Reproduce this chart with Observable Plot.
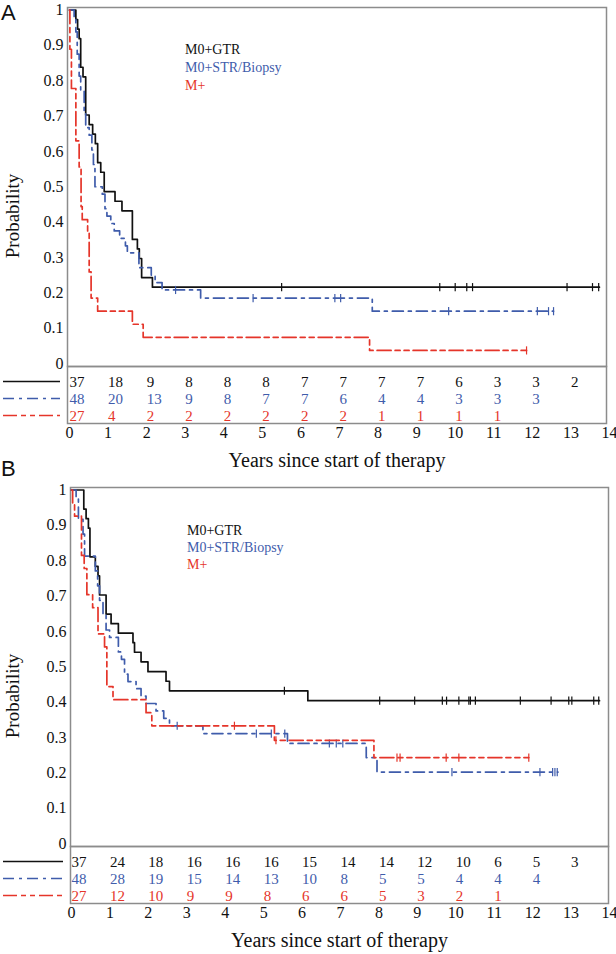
<!DOCTYPE html>
<html><head><meta charset="utf-8">
<script src="https://cdn.jsdelivr.net/npm/d3@7"></script>
<script src="https://cdn.jsdelivr.net/npm/@observablehq/plot@0.6"></script>
<style>
body{margin:0;background:#fff;}
#wrap{position:relative;width:616px;height:954px;overflow:hidden;font-family:"Liberation Serif","Times New Roman",serif;color:#111;}
.abs{position:absolute;}
.letter{font-family:"Liberation Sans",Arial,sans-serif;font-size:22px;line-height:22px;}
.legend{font-size:14px;line-height:18px;white-space:nowrap;}
</style></head><body><div id="wrap"></div>
<script>
// ---------- shared ----------
const seriesNames = ["M0+GTR", "M0+STR/Biopsy", "M+"];
const seriesColors = ["#111111", "#3f5cab", "#e5352a"];
const seriesDash = [null, "11,5,3,5", "14,4,5,4,5,4"];
const yTicks = [0, 0.1, 0.2, 0.3, 0.4, 0.5, 0.6, 0.7, 0.8, 0.9, 1];
const xTicks = [0, 1, 2, 3, 4, 5, 6, 7, 8, 9, 10, 11, 12, 13, 14];
const riskYears = [0, 1, 2, 3, 4, 5, 6, 7, 8, 9, 10, 11, 12, 13];
const xTitle = "Years since start of therapy";
const yTitle = "Probability";

// ---------- Panel A ----------
const aGtrTime = [0, 0.165, 0.21, 0.25, 0.29, 0.35, 0.42, 0.51, 0.60, 0.67, 0.73, 0.81, 0.90, 1.18, 1.36, 1.63, 1.76, 1.81, 1.87, 2.15];
const aGtrSurv = [1, 0.973, 0.946, 0.919, 0.838, 0.811, 0.703, 0.676, 0.649, 0.622, 0.568, 0.541, 0.486, 0.459, 0.432, 0.351, 0.324, 0.297, 0.243, 0.216];
const aGtrEnd = 13.74;
const aGtrCens = [5.5, 9.6, 10.0, 10.3, 10.45, 12.9, 13.56, 13.72];

const aStrTime = [0, 0.12, 0.165, 0.20, 0.25, 0.29, 0.38, 0.42, 0.51, 0.58, 0.62, 0.66, 0.85, 0.92, 0.97, 1.07, 1.16, 1.30, 1.45, 1.50, 1.80, 2.12, 2.22, 2.40, 3.40, 7.85];
const aStrSurv = [1, 0.979, 0.938, 0.875, 0.813, 0.771, 0.708, 0.667, 0.646, 0.604, 0.563, 0.5, 0.479, 0.438, 0.417, 0.396, 0.375, 0.354, 0.333, 0.313, 0.271, 0.25, 0.229, 0.208, 0.185, 0.148];
const aStrEnd = 12.55;
const aStrCens = [2.75, 4.76, 6.88, 7.03, 9.83, 12.13, 12.42, 12.55];

const aMpTime = [0, 0.01, 0.05, 0.165, 0.25, 0.30, 0.33, 0.47, 0.51, 0.56, 0.73, 1.63, 1.91, 7.78];
const aMpSurv = [1, 0.889, 0.778, 0.630, 0.556, 0.444, 0.407, 0.370, 0.259, 0.185, 0.148, 0.111, 0.074, 0.037];
const aMpEnd = 11.85;
const aMpCens = [11.85];

const aRiskGtr = [37, 18, 9, 8, 8, 8, 7, 7, 7, 7, 6, 3, 3, 2];
const aRiskStr = [48, 20, 13, 9, 8, 7, 7, 6, 4, 4, 3, 3, 3];
const aRiskMp = [27, 4, 2, 2, 2, 2, 2, 2, 1, 1, 1, 1];

// ---------- Panel B ----------
const bGtrTime = [0, 0.32, 0.38, 0.44, 0.48, 0.62, 0.69, 0.73, 0.90, 1.03, 1.22, 1.60, 1.64, 1.81, 1.99, 2.46, 2.55, 6.15];
const bGtrSurv = [1, 0.946, 0.919, 0.892, 0.811, 0.784, 0.757, 0.703, 0.649, 0.622, 0.595, 0.568, 0.541, 0.514, 0.486, 0.459, 0.432, 0.404];
const bGtrEnd = 13.74;
const bGtrCens = [5.54, 8.02, 8.93, 9.65, 9.76, 10.08, 10.34, 10.38, 10.51, 11.68, 12.48, 12.94, 13.02, 13.59, 13.72];

const bStrTime = [0, 0.12, 0.18, 0.30, 0.34, 0.62, 0.68, 0.73, 0.82, 0.90, 0.99, 1.22, 1.30, 1.38, 1.47, 1.68, 1.81, 1.94, 2.20, 2.40, 2.55, 3.42, 5.62, 7.67, 7.95];
const bStrSurv = [1, 0.979, 0.917, 0.875, 0.813, 0.771, 0.729, 0.688, 0.646, 0.604, 0.583, 0.542, 0.521, 0.479, 0.458, 0.438, 0.417, 0.396, 0.375, 0.354, 0.333, 0.311, 0.283, 0.243, 0.202];
const bStrEnd = 12.66;
const bStrCens = [2.75, 4.81, 5.2, 5.55, 6.71, 6.89, 7.06, 9.9, 12.19, 12.52, 12.58, 12.64];

const bMpTime = [0, 0.03, 0.08, 0.26, 0.33, 0.40, 0.55, 0.69, 0.86, 0.92, 1.08, 1.94, 2.09, 5.28, 7.87];
const bMpSurv = [1, 0.963, 0.926, 0.815, 0.778, 0.704, 0.667, 0.593, 0.556, 0.444, 0.407, 0.370, 0.333, 0.292, 0.243];
const bMpEnd = 11.9;
const bMpCens = [4.24, 5.32, 8.47, 8.55, 9.75, 10.08, 11.9];

const bRiskGtr = [37, 24, 18, 16, 16, 16, 15, 14, 14, 12, 10, 6, 5, 3];
const bRiskStr = [48, 28, 19, 15, 14, 13, 10, 8, 5, 5, 4, 4, 4];
const bRiskMp = [27, 12, 10, 9, 9, 8, 6, 6, 5, 3, 2, 1];

// ---------- helpers ----------
function stepPoints(times, surv, end, name) {
  const pts = times.map((t, i) => ({t, s: surv[i], name}));
  pts.push({t: end, s: surv[surv.length - 1], name});
  return pts;
}
function survAt(times, surv, t) {
  let s = surv[0];
  for (let i = 0; i < times.length; i++) if (times[i] <= t) s = surv[i];
  return s;
}
const vtick = {draw(ctx, size) { const h = Math.sqrt(size) / 2; ctx.moveTo(0, -h); ctx.lineTo(0, h); }};
const yDomain = [-0.0085, 1.0071];
const frameColor = "#8c8c8c";
const serif = "'Liberation Serif', 'Times New Roman', serif";

function buildPanel(cfg) {
  const wrap = document.getElementById("wrap");
  const marks = [Plot.frame({stroke: frameColor, strokeWidth: 1.5})];
  cfg.series.forEach((s, i) => {
    const pts = stepPoints(s.time, s.surv, s.end, seriesNames[i]);
    marks.push(Plot.line(pts, {x: "t", y: "s", curve: "step-after", stroke: seriesColors[i], strokeWidth: 1.7, strokeDasharray: seriesDash[i]}));
    const cens = s.cens.map(t => ({t, s: survAt(s.time, s.surv, t)}));
    marks.push(Plot.dot(cens, {x: "t", y: "s", symbol: vtick, r: 4.6, fill: "none", stroke: seriesColors[i], strokeWidth: 1.2}));
  });
  marks.push(Plot.text([yTitle], {frameAnchor: "left", textAnchor: "middle", lineAnchor: "middle", dx: -(cfg.ml - 12), dy: 29, rotate: -90, fontSize: 19, fill: "#111", fontFamily: serif}));
  const curve = Plot.plot({
    width: 616, height: cfg.ch, marginTop: cfg.mt, marginBottom: 1, marginLeft: cfg.ml, marginRight: cfg.mr,
    x: {domain: cfg.xdom, axis: null},
    y: {domain: yDomain, ticks: yTicks, tickFormat: d => String(+d.toFixed(1)), tickSize: 0, tickPadding: 4, label: null},
    style: {fontFamily: serif, fontSize: "16px", color: "#111", background: "transparent", overflow: "visible"},
    marks
  });
  curve.style.position = "absolute"; curve.style.left = "0px"; curve.style.top = cfg.ctop + "px";
  wrap.appendChild(curve);

  // risk table
  const rowRange = [15.5, 49.5];
  const tmarks = [Plot.frame({stroke: frameColor, strokeWidth: 1.5})];
  cfg.risk.forEach((r, i) => {
    const rows = r.map((n, j) => ({yr: riskYears[j], n, name: seriesNames[i]}));
    tmarks.push(Plot.text(rows, {x: "yr", y: "name", text: "n", textAnchor: "start", fill: seriesColors[i], fontSize: 15, fontFamily: serif}));
  });
  tmarks.push(Plot.text([xTitle], {frameAnchor: "bottom", lineAnchor: "middle", dy: 37, fontSize: 20, fill: "#111", fontFamily: serif}));
  const table = Plot.plot({
    width: 616, height: cfg.th, marginTop: 0, marginBottom: cfg.th - 57, marginLeft: cfg.ml, marginRight: cfg.mr,
    x: {domain: cfg.xdom, ticks: xTicks, tickFormat: d => String(d), tickSize: 0, tickPadding: 3, label: null},
    y: {type: "point", domain: seriesNames, range: rowRange, padding: 0, axis: null},
    style: {fontFamily: serif, fontSize: "16px", color: "#111", background: "transparent", overflow: "visible"},
    marks: tmarks
  });
  table.style.position = "absolute"; table.style.left = "0px"; table.style.top = cfg.ttop + "px";
  const ys = d3.scalePoint().domain(seriesNames).range(rowRange).padding(0);
  seriesNames.forEach((nm, i) => {
    d3.select(table).append("line")
      .attr("x1", 3).attr("x2", cfg.ml - 7)
      .attr("y1", ys(nm)).attr("y2", ys(nm))
      .attr("stroke", seriesColors[i]).attr("stroke-width", 1.7)
      .attr("stroke-dasharray", seriesDash[i]);
  });
  wrap.appendChild(table);

  // in-plot legend
  const lg = document.createElement("div");
  lg.className = "abs legend";
  lg.style.left = cfg.lgx + "px"; lg.style.top = cfg.lgy + "px"; lg.style.lineHeight = cfg.lgh + "px";
  seriesNames.forEach((nm, i) => {
    const d = document.createElement("div"); d.textContent = nm; d.style.color = seriesColors[i]; lg.appendChild(d);
  });
  wrap.appendChild(lg);

  const L = document.createElement("div");
  L.className = "abs letter"; L.textContent = cfg.letter;
  L.style.left = "1px"; L.style.top = cfg.lettery + "px";
  wrap.appendChild(L);
}

buildPanel({
  letter: "A", lettery: 2,
  ctop: 0, ch: 367, mt: 7, ml: 67, mr: 10, xdom: [-0.052, 13.923],
  ttop: 366, th: 109,
  lgx: 185, lgy: 41, lgh: 18,
  series: [
    {time: aGtrTime, surv: aGtrSurv, end: aGtrEnd, cens: aGtrCens},
    {time: aStrTime, surv: aStrSurv, end: aStrEnd, cens: aStrCens},
    {time: aMpTime, surv: aMpSurv, end: aMpEnd, cens: aMpCens}
  ],
  risk: [aRiskGtr, aRiskStr, aRiskMp]
});
buildPanel({
  letter: "B", lettery: 458,
  ctop: 475, ch: 372, mt: 12, ml: 70, mr: 8, xdom: [-0.026, 13.974],
  ttop: 846, th: 108,
  lgx: 187, lgy: 522, lgh: 17,
  series: [
    {time: bGtrTime, surv: bGtrSurv, end: bGtrEnd, cens: bGtrCens},
    {time: bStrTime, surv: bStrSurv, end: bStrEnd, cens: bStrCens},
    {time: bMpTime, surv: bMpSurv, end: bMpEnd, cens: bMpCens}
  ],
  risk: [bRiskGtr, bRiskStr, bRiskMp]
});
</script></body></html>
